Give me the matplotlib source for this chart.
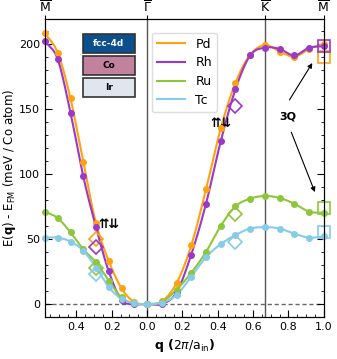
import numpy as np
import matplotlib
matplotlib.use('Agg')
import matplotlib.pyplot as plt
from matplotlib.patches import Rectangle

# high symmetry points (units of 2pi/a_in)
qM_left = -1/np.sqrt(3)
qK = 2/3
qM = 1.0

# q points: M -> Gamma (8 steps), Gamma -> K (8 steps), K -> M (4 steps)
q = np.concatenate([np.linspace(qM_left, 0, 9), np.linspace(0, qK, 9)[1:], np.linspace(qK, qM, 5)[1:]])

names = ['Pd', 'Rh', 'Ru', 'Tc']
colors = ['#ffa20f', '#9b38c9', '#8ec63a', '#86cbe8']

E_Pd = [208, 193, 158, 109, 62, 33, 12, 1.5, 0,
        2, 16, 45, 88, 135, 170, 191.5, 199, 194, 190, 196, 200]
E_Rh = [202, 188, 147, 98, 59, 25, 3, 0, 0,
        0, 9, 38, 77, 125, 165, 191, 197, 196, 191, 197, 198]
E_Ru = [71, 66, 55, 42, 32, 18, 5, 0.5, 0,
        1.5, 11, 24, 40, 60, 75, 81, 83, 81.5, 77, 71, 70]
E_Tc = [51, 51, 48, 41, 28, 13, 4, 0.5, 0,
        1, 7, 21, 36, 46, 53, 58, 59, 58, 54, 51, 52]
series = [E_Pd, E_Rh, E_Ru, E_Tc]

# uudd states (open diamonds) and 3Q states (open squares)
q_dia_left = -0.289
E_dia_left = [50, 44, 28, 23]
q_dia_right = 0.5
E_dia_right = [None, 152, 69, 48]
E_3Q = [190, 198, 74, 55]


def smooth(x, y, n=600):
    x = np.asarray(x, float)
    y = np.asarray(y, float)
    m = np.gradient(y, x)
    xs = np.linspace(x[0], x[-1], n)
    i = np.clip(np.searchsorted(x, xs) - 1, 0, len(x) - 2)
    h = x[i+1] - x[i]
    t = (xs - x[i]) / h
    h00 = 2*t**3 - 3*t**2 + 1
    h10 = t**3 - 2*t**2 + t
    h01 = -2*t**3 + 3*t**2
    h11 = t**3 - t**2
    ys = h00*y[i] + h10*h*m[i] + h01*y[i+1] + h11*h*m[i+1]
    return xs, ys


plt.rcParams['font.family'] = 'DejaVu Sans'
fig = plt.figure(figsize=(3.37, 3.59), dpi=100)
ax = fig.add_axes([0.1335, 0.117, 0.8275, 0.83])

ax.axhline(0, color='#666666', ls='--', lw=1, dashes=(3, 2), zorder=1)
ax.axvline(0, color='#555555', lw=1, zorder=1)
ax.axvline(qK, color='#555555', lw=1, zorder=1)

for E, c, nm in zip(series, colors, names):
    xs, ys = smooth(q, E)
    ax.plot(xs, ys, color=c, lw=1.5, label=nm, zorder=3)
    ax.plot(q, E, 'o', color=c, ms=4, zorder=4, clip_on=False)

for i, c in enumerate(colors):
    ax.plot(q_dia_left, E_dia_left[i], 'D', ms=7, mfc='none', mec=c, mew=1.2, zorder=5)
    if E_dia_right[i] is not None:
        ax.plot(q_dia_right, E_dia_right[i], 'D', ms=7, mfc='none', mec=c, mew=1.2, zorder=5)
    ax.plot(qM, E_3Q[i], 's', ms=8, mfc='none', mec=c, mew=1.2, zorder=5, clip_on=False)

ax.text(-0.215, 61, '⇈⇊', fontsize=9, fontweight='bold', ha='center', va='center')
ax.text(0.42, 139, '⇈⇊', fontsize=9, fontweight='bold', ha='center', va='center')
ax.text(0.797, 144, '3Q', fontsize=8, fontweight='bold', ha='center', va='center')
ax.annotate('', xy=(0.943, 187), xytext=(0.797, 155),
            arrowprops=dict(arrowstyle='-|>', color='black', lw=0.8, mutation_scale=7))
ax.annotate('', xy=(0.955, 84), xytext=(0.81, 134),
            arrowprops=dict(arrowstyle='-|>', color='black', lw=0.8, mutation_scale=7))

# colored boxes
boxes = [('fcc-4d', '#0b4f8f', 'white'), ('Co', '#c2819c', 'black'), ('Ir', '#dfe6ee', 'black')]
for k, (lab, fc, tc) in enumerate(boxes):
    y0 = 0.885 - k*0.074
    ax.add_patch(Rectangle((0.136, y0), 0.186, 0.064, transform=ax.transAxes,
                           facecolor=fc, edgecolor='#333333', lw=1.2, zorder=6))
    ax.text(0.229, y0 + 0.032, lab, transform=ax.transAxes, fontsize=6.5,
            fontweight='bold', color=tc, ha='center', va='center', zorder=7)

ax.set_xlim(qM_left, qM)
ax.set_ylim(-10, 219)
ax.set_xticks([-0.4, -0.2, 0, 0.2, 0.4, 0.6, 0.8, 1.0])
ax.set_xticklabels(['0.4', '0.2', '0.0', '0.2', '0.4', '0.6', '0.8', '1.0'])
ax.set_xticks(np.arange(-0.55, 1.0, 0.05), minor=True)
ax.set_yticks([0, 50, 100, 150, 200])
ax.set_yticks(np.arange(-10, 220, 10), minor=True)
ax.tick_params(which='both', direction='in', top=True, right=True, labelsize=8)
ax.tick_params(which='major', length=5)
ax.tick_params(which='minor', length=2.5)

ax.set_xlabel(r'$\mathbf{q}$ ($2\pi/\mathrm{a_{in}}$)', fontsize=9, fontweight='bold')
ax.set_ylabel(r'E($\mathbf{q}$) - E$_{\rm FM}$ (meV / Co atom)', fontsize=8.5, labelpad=1)

top = ax.twiny()
top.set_xlim(ax.get_xlim())
top.set_xticks([qM_left, 0, qK, qM])
top.set_xticklabels([r'$\overline{\rm M}$', r'$\overline{\Gamma}$', r'$\overline{\rm K}$', r'$\overline{\rm M}$'], fontsize=9)
top.tick_params(direction='out', length=3, pad=0)

ax.legend(loc='upper left', bbox_to_anchor=(0.36, 0.975), fontsize=9, handlelength=2.3,
          labelspacing=0.45, framealpha=1, edgecolor='#dddddd', fancybox=True)

fig.savefig('out.png', dpi=100)
